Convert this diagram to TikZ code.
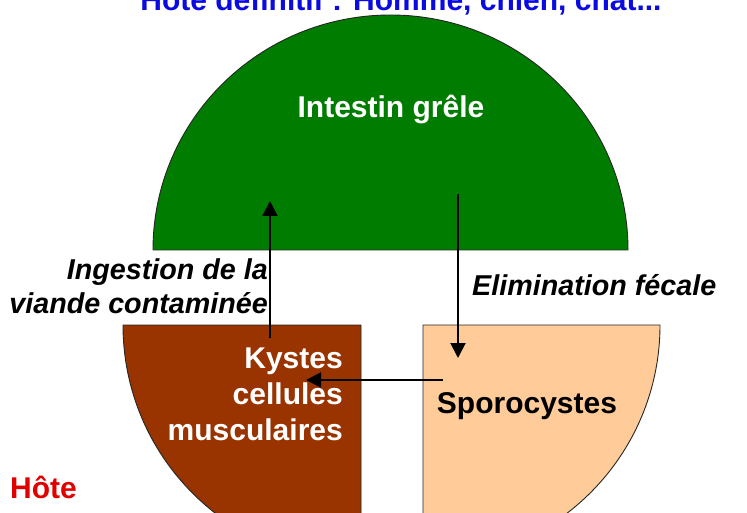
\documentclass[tikz,border=0pt]{standalone}
\usepackage{fontspec}
\setmainfont{Liberation Sans}
\usetikzlibrary{arrows.meta}
\definecolor{grn}{RGB}{0,125,0}
\definecolor{brn}{RGB}{153,51,0}
\definecolor{pch}{RGB}{255,204,153}
\definecolor{ttl}{RGB}{10,10,225}
\definecolor{rdh}{RGB}{225,0,0}
\tikzset{
  zone/.style={draw=black!85, line width=0.9pt},
  txt/.style={inner sep=0pt, font=\bfseries\fontsize{30}{36}\selectfont},
  lbl/.style={inner sep=0pt, font=\bfseries\itshape\fontsize{28.7}{34}\selectfont},
  flow/.style={line width=2pt, -{Triangle[length=15pt,width=15pt]}}
}
\begin{document}
\begin{tikzpicture}[x=1pt,y=-1pt]
\useasboundingbox (0,0) rectangle (747,513);
\clip (0,0) rectangle (747,513);
\fill[white] (0,0) rectangle (747,513);
% shapes
\draw[zone, fill=grn] (153,250) arc[start angle=180, end angle=360, x radius=237.5, y radius=235] -- cycle;
\draw[zone, fill=brn] (123,325) -- (361,325) -- (361,563) arc[start angle=90, end angle=180, radius=238] -- cycle;
\draw[zone, fill=pch] (423,325) -- (660,325) arc[start angle=0, end angle=90, radius=237] -- cycle;
% texts
\node[txt, text=ttl, anchor=base] (title) at (401,11) {Hôte définitif : Homme, chien, chat...};
\node[txt, text=white, anchor=base] (intestin) at (391,118) {Intestin grêle};
\node[txt, text=white, anchor=base east, align=right] (kystes) at (343,440) {Kystes\\cellules\\musculaires};
\node[txt, text=black, anchor=base] (sporo) at (527,413) {Sporocystes};
\node[txt, text=rdh, anchor=base west] (hote) at (10,498) {Hôte};
\node[lbl, anchor=base east, align=right] (ingestion) at (268,313) {Ingestion de la\\viande contaminée};
\node[lbl, anchor=base west] (elim) at (472,295) {Elimination fécale};
% arrow endpoints
\coordinate (upS) at (270,338);
\coordinate (upE) at (270,201);
\coordinate (dnS) at (458,194);
\coordinate (dnE) at (458,358);
\coordinate (hS) at (443,380);
\coordinate (hE) at (306,380);
\draw[flow] (upS) -- (upE);
\draw[flow] (dnS) -- (dnE);
\draw[flow] (hS) -- (hE);
\end{tikzpicture}
\end{document}
